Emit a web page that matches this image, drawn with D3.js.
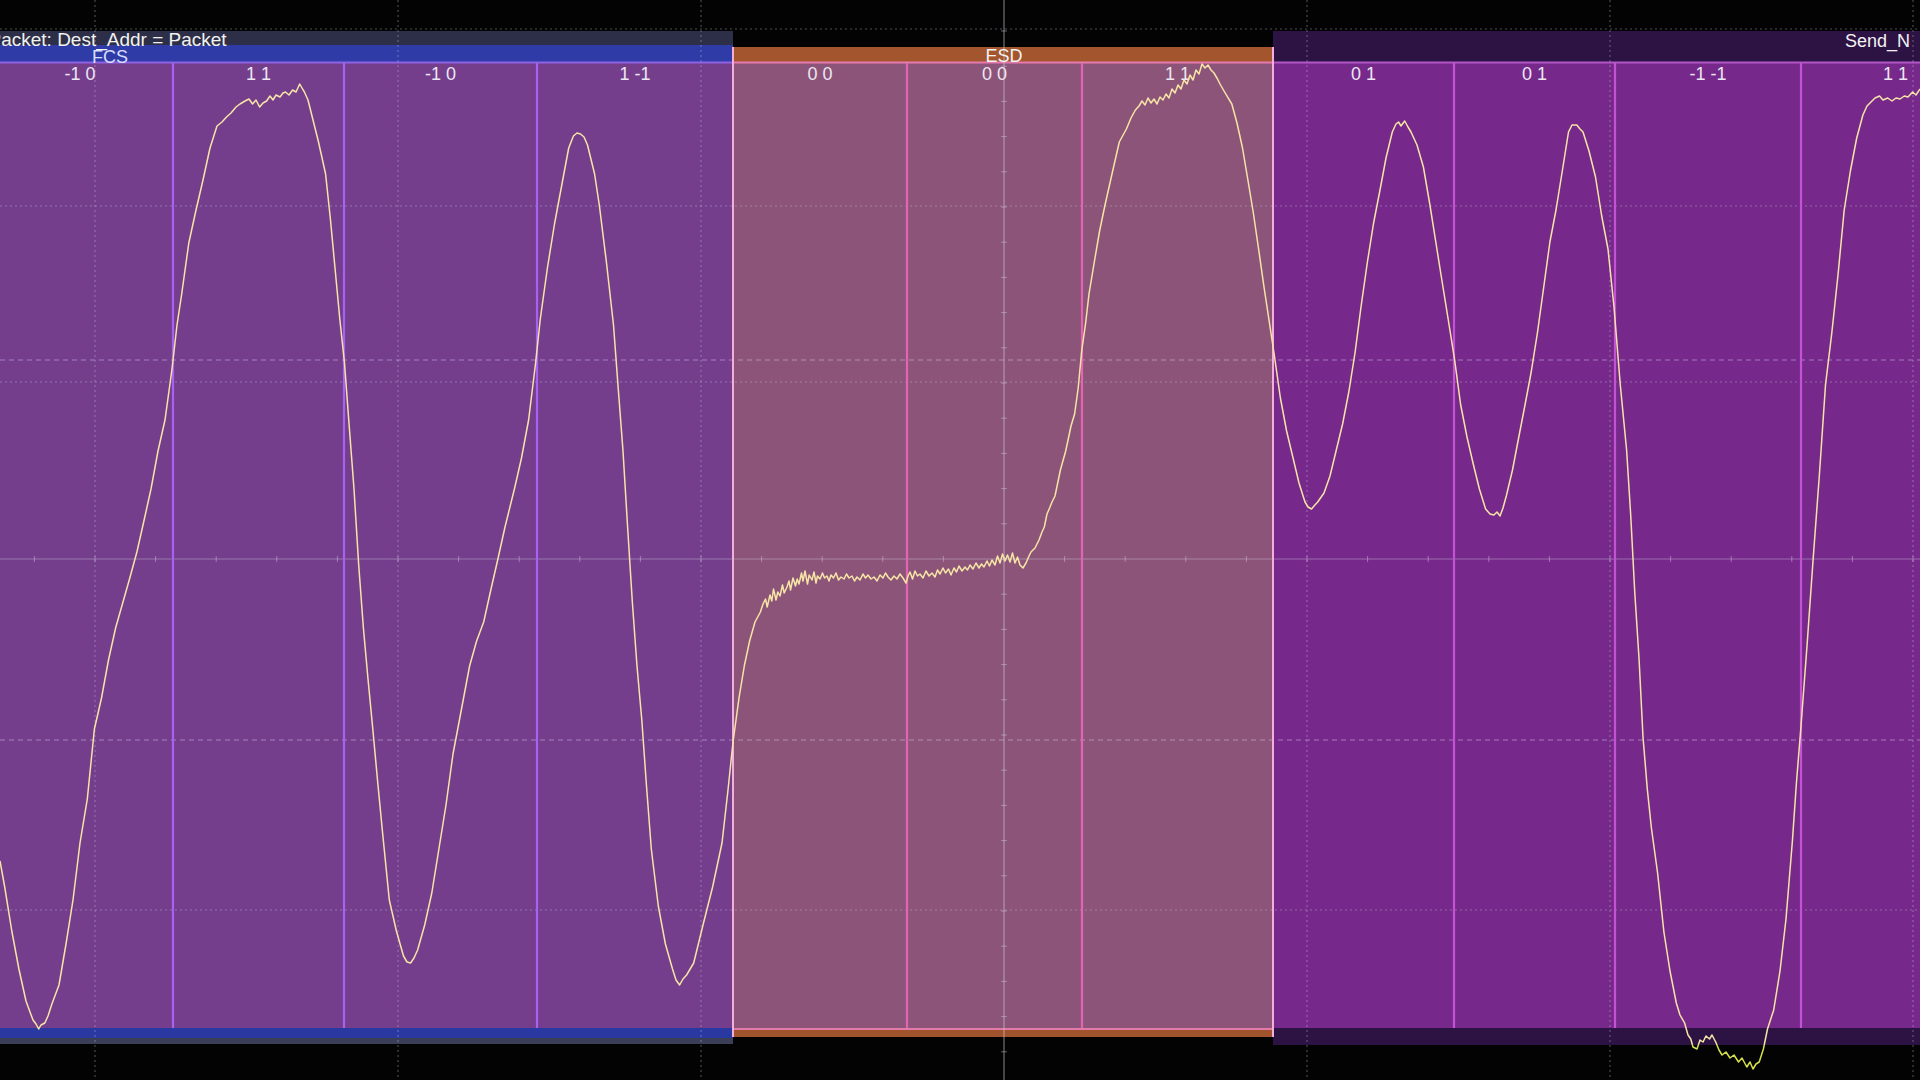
<!DOCTYPE html>
<html>
<head>
<meta charset="utf-8">
<script src="https://cdn.jsdelivr.net/npm/d3@7"></script>
<style>
html,body{margin:0;padding:0;background:#000;overflow:hidden}
svg{display:block}
</style>
</head>
<body>
<script>
// ---------------- DATA ----------------
// Decoded regions (time in ps)
const regionNames  = ["FCS", "ESD", "Send_N"];
const regionStarts = [-200, 7330, 12730];
const regionEnds   = [7330, 12730, 19400];

// Packet layer label
const packetLabel = "Packet: Dest_Addr = Packet";
const packetStart = -115;
const packetEnd = 7330;

// Symbols (PAM-3 pairs)
const symbolLabels = ["-1 0", "1 1", "-1 0", "1 -1", "0 0", "0 0", "1 1", "0 1", "0 1", "-1 -1", "1 1"];
const symbolStarts = [-130, 1730, 3440, 5370, 7330, 9070, 10820, 12730, 14540, 16150, 18010];
const symbolEnds   = [1730, 3440, 5370, 7330, 9070, 10820, 12730, 14540, 16150, 18010, 19900];

// Graticule (time in ps, level in mV)
const gridTimes = [950, 3980, 7010, 13070, 16100, 19130];
const centerTime = 10040;
const gridLevels = [530, 353, 177, -351];
const centerLevel = 0;
const thresholdLevels = [199, -181];

// Captured waveform: [time ps, level mV]
const trace = [[0,-302],[47,-328],[118,-372],[189,-410],[260,-442],[300,-453],[330,-461],[360,-465],[387,-470],[410,-466],[448,-464],[480,-457],[519,-445],[590,-426],[660,-385],[730,-341],[800,-284],[873,-240],[944,-170],[1015,-139],[1085,-101],[1156,-69],[1227,-44],[1298,-19],[1369,7],[1439,38],[1510,70],[1580,108],[1650,139],[1720,190],[1770,234],[1817,265],[1888,316],[1958,348],[2030,379],[2100,411],[2170,433],[2220,437],[2265,442],[2310,446],[2360,452],[2400,455],[2450,458],[2490,460],[2525,455],[2560,459],[2596,452],[2630,456],[2666,458],[2700,463],[2730,459],[2760,464],[2800,462],[2830,466],[2855,467],[2890,464],[2926,469],[2960,467],[2997,475],[3020,471],[3044,467],[3080,459],[3115,445],[3185,417],[3256,385],[3303,341],[3350,291],[3398,240],[3445,196],[3492,133],[3540,70],[3587,-6],[3634,-69],[3680,-120],[3728,-170],[3775,-221],[3823,-271],[3893,-341],[3964,-372],[4035,-397],[4070,-403],[4106,-404],[4140,-399],[4176,-391],[4247,-366],[4318,-334],[4389,-290],[4460,-246],[4530,-195],[4600,-158],[4696,-107],[4766,-82],[4837,-63],[4908,-31],[4979,0],[5050,32],[5144,70],[5215,101],[5286,139],[5356,196],[5403,240],[5474,291],[5545,335],[5616,373],[5687,411],[5734,423],[5770,426],[5805,425],[5840,422],[5875,414],[5946,385],[5993,354],[6064,297],[6135,234],[6182,171],[6230,108],[6276,32],[6324,-44],[6370,-107],[6418,-161],[6465,-227],[6513,-290],[6583,-347],[6654,-385],[6725,-410],[6760,-421],[6796,-426],[6830,-420],[6866,-416],[6937,-404],[7030,-366],[7126,-328],[7220,-284],[7280,-231],[7330,-183],[7390,-139],[7443,-107],[7496,-82],[7550,-63],[7604,-53],
[7630,-45],[7655,-40],[7672,-48],[7700,-36],[7718,-42],[7735,-30],[7760,-41],[7778,-33],[7800,-37],[7825,-26],[7842,-34],[7870,-28],[7890,-22],[7905,-31],[7930,-19],[7955,-27],[7972,-20],[7990,-25],[8015,-14],[8030,-22],[8050,-12],[8075,-25],[8092,-16],[8120,-21],[8140,-13],[8160,-24],[8175,-17],[8200,-20],[8225,-14],[8245,-19],[8270,-17],[8290,-22],[8310,-16],[8335,-19],[8360,-14],[8385,-21],[8410,-18],[8440,-20],[8465,-15],[8490,-19],[8520,-17],[8545,-22],[8570,-18],[8600,-21],[8630,-15],[8655,-19],[8680,-16],[8710,-20],[8740,-18],[8770,-22],[8800,-16],[8830,-19],[8855,-14],[8880,-18],[8910,-21],[8940,-17],[8970,-20],[9000,-15],[9030,-19],[9060,-24],[9080,-17],[9100,-13],[9125,-20],[9150,-12],[9175,-17],[9200,-15],[9230,-19],[9260,-12],[9290,-17],[9320,-14],[9350,-18],[9375,-11],[9400,-15],[9430,-9],[9455,-14],[9485,-10],[9510,-16],[9540,-9],[9565,-13],[9590,-7],[9620,-12],[9650,-8],[9675,-11],[9700,-6],[9730,-10],[9760,-4],[9790,-9],[9815,-5],[9840,-8],[9870,-2],[9895,-7],[9920,-1],[9950,-6],[9975,3],[10000,-4],[10025,5],[10050,-2],[10075,4],[10100,-3],[10125,6],[10150,-4],[10175,2],[10200,-6],[10230,-9],[10260,-4],[10290,3],[10310,7],
[10350,11],[10390,19],[10420,27],[10443,32],[10470,45],[10496,51],[10520,57],[10550,63],[10604,89],[10657,108],[10710,133],[10746,145],[10782,171],[10818,209],[10854,234],[10890,265],[10943,297],[10996,328],[11050,354],[11120,385],[11193,417],[11264,430],[11310,441],[11354,449],[11390,453],[11420,458],[11450,454],[11480,461],[11510,456],[11540,460],[11570,455],[11600,462],[11630,459],[11660,465],[11690,461],[11720,470],[11750,466],[11780,474],[11810,470],[11840,479],[11870,475],[11900,484],[11930,479],[11960,489],[11990,485],[12020,495],[12050,491],[12080,494],[12110,489],[12140,486],[12175,480],[12200,475],[12246,467],[12318,455],[12370,436],[12425,411],[12479,379],[12532,347],[12586,310],[12640,272],[12693,237],[12740,206],[12804,161],[12866,128],[12928,102],[12990,76],[13050,57],[13080,52],[13115,50],[13140,53],[13177,57],[13240,66],[13300,83],[13363,109],[13426,135],[13488,167],[13550,206],[13610,252],[13674,297],[13736,336],[13800,369],[13860,401],[13923,427],[13960,435],[13985,437],[14010,433],[14047,438],[14080,432],[14110,427],[14170,414],[14234,392],[14296,356],[14358,317],[14420,278],[14483,239],[14545,200],[14607,154],[14670,122],[14730,96],[14794,70],[14856,50],[14900,45],[14939,44],[14970,47],[15000,43],[15030,51],[15063,63],[15125,89],[15188,122],[15250,154],[15312,187],[15374,226],[15436,271],[15499,317],[15560,349],[15623,388],[15685,427],[15720,434],[15768,434],[15800,430],[15830,427],[15890,408],[15955,382],[16017,343],[16080,310],[16140,252],[16203,174],[16266,109],[16307,44],[16348,-34],[16390,-99],[16430,-178],[16473,-230],[16514,-269],[16576,-314],[16639,-373],[16700,-412],[16763,-444],[16800,-456],[16846,-464],[16880,-476],[16908,-480],[16930,-488],[16970,-490],[17000,-481],[17030,-483],[17060,-477],[17095,-480],[17120,-476],[17157,-483],[17190,-491],[17220,-496],[17260,-493],[17300,-499],[17340,-496],[17385,-503],[17420,-499],[17468,-508],[17500,-503],[17530,-510],[17560,-505],[17592,-503],[17634,-490],[17675,-470],[17737,-451],[17800,-412],[17860,-360],[17924,-282],[17965,-223],[18007,-171],[18070,-87],[18130,-2],[18193,83],[18255,174],[18318,226],[18380,284],[18442,349],[18504,388],[18567,421],[18629,444],[18670,453],[18710,457],[18750,461],[18795,463],[18830,459],[18877,461],[18920,458],[18960,461],[19000,460],[19043,463],[19080,462],[19126,467],[19160,464],[19200,470]];

// ---------------- STYLE / LAYOUT ----------------
const W = 1920, H = 1080;
const layout = {
  packetTop: 31, packetBottom: 45,
  bodyTop: 63, bodyBottom: 1028,
  labelBaseline: 80
};
const regionStyle = {
  "FCS":    {body:"#743E8C", header:"#2F3CA8", headerTop:45, topLine:"#8E62E6", divider:"#A862F2",
             bands:[[1028,1038,"#2A39A2"],[1038,1044,"#3A3E56"]], labelX:"center", labelY:63},
  "ESD":    {body:"#8C5478", header:"#A3552E", headerTop:47, topLine:"#E87AB0", divider:"#E464B4",
             bands:[[1028,1030,"#E27AA8"],[1030,1037,"#A0532C"]], labelX:"center", labelY:62, edge:"#F4AEDA"},
  "Send_N": {body:"#76298B", header:"#2D1244", headerTop:31, topLine:"#B456C8", divider:"#C352D4",
             bands:[[1028,1045,"#2D1244"]], labelX:"right", labelY:47}
};
const FONT = "'Liberation Sans', Arial, Helvetica, sans-serif";

// ---------------- SCALES ----------------
const x = d3.scaleLinear().domain([0, 19200]).range([0, W]);
const y = d3.scaleLinear().domain([-528, 528]).range([1087, 31]);

const svg = d3.select("body").append("svg")
  .attr("width", W).attr("height", H)
  .attr("viewBox", `0 0 ${W} ${H}`);

svg.append("rect").attr("width", W).attr("height", H).attr("fill", "#030303");

const regions = regionNames.map((n, i) => ({name: n, start: regionStarts[i], end: regionEnds[i], s: regionStyle[n]}));
const cx = v => Math.max(-5, Math.min(W + 5, x(v)));

// region bodies
svg.append("g").selectAll("rect").data(regions).join("rect")
  .attr("x", d => cx(d.start)).attr("width", d => cx(d.end) - cx(d.start))
  .attr("y", layout.bodyTop).attr("height", layout.bodyBottom - layout.bodyTop)
  .attr("fill", d => d.s.body);

// region headers
svg.append("g").selectAll("rect").data(regions).join("rect")
  .attr("x", d => cx(d.start)).attr("width", d => cx(d.end) - cx(d.start))
  .attr("y", d => d.s.headerTop).attr("height", d => layout.bodyTop - d.s.headerTop)
  .attr("fill", d => d.s.header);

// packet row
svg.append("rect")
  .attr("x", cx(packetStart)).attr("width", x(packetEnd) - cx(packetStart))
  .attr("y", layout.packetTop).attr("height", layout.packetBottom - layout.packetTop)
  .attr("fill", "#2C2F47");

// region top lines
svg.append("g").selectAll("rect").data(regions).join("rect")
  .attr("x", d => cx(d.start)).attr("width", d => cx(d.end) - cx(d.start))
  .attr("y", layout.bodyTop - 1.5).attr("height", 2)
  .attr("fill", d => d.s.topLine);

// bottom bands
regions.forEach(r => {
  r.s.bands.forEach(b => {
    svg.append("rect")
      .attr("x", cx(r.start)).attr("width", cx(r.end) - cx(r.start))
      .attr("y", b[0]).attr("height", b[1] - b[0]).attr("fill", b[2]);
  });
});

// graticule
const grid = svg.append("g").attr("fill", "none");
grid.selectAll("line.vt").data(gridTimes).join("line")
  .attr("x1", d => x(d)).attr("x2", d => x(d)).attr("y1", 0).attr("y2", H)
  .attr("stroke", "rgba(200,200,225,0.42)").attr("stroke-width", 1).attr("stroke-dasharray", "2,3");
grid.append("line")
  .attr("x1", x(centerTime)).attr("x2", x(centerTime)).attr("y1", 0).attr("y2", H)
  .attr("stroke", "rgba(205,205,215,0.55)").attr("stroke-width", 1.2);
grid.selectAll("line.hz").data(gridLevels).join("line")
  .attr("x1", 0).attr("x2", W).attr("y1", d => y(d)).attr("y2", d => y(d))
  .attr("stroke", "rgba(200,200,225,0.38)").attr("stroke-width", 1).attr("stroke-dasharray", "2,3");
grid.selectAll("line.th").data(thresholdLevels).join("line")
  .attr("x1", 0).attr("x2", W).attr("y1", d => y(d)).attr("y2", d => y(d))
  .attr("stroke", "rgba(215,200,240,0.5)").attr("stroke-width", 1).attr("stroke-dasharray", "5,4");
grid.append("line")
  .attr("x1", 0).attr("x2", W).attr("y1", y(centerLevel)).attr("y2", y(centerLevel))
  .attr("stroke", "rgba(205,200,225,0.42)").attr("stroke-width", 1.2);

// minor ticks on centre axes
const hTicks = d3.range(-25, 26).map(k => centerTime + k * 606);
grid.selectAll("line.htk").data(hTicks).join("line")
  .attr("x1", d => x(d)).attr("x2", d => x(d))
  .attr("y1", y(centerLevel) - 3).attr("y2", y(centerLevel) + 3)
  .attr("stroke", "rgba(210,205,225,0.45)");
const vTicks = d3.range(-15, 16).map(k => centerLevel + k * 35.2);
grid.selectAll("line.vtk").data(vTicks).join("line")
  .attr("x1", x(centerTime) - 3).attr("x2", x(centerTime) + 3)
  .attr("y1", d => y(d)).attr("y2", d => y(d))
  .attr("stroke", "rgba(210,205,225,0.45)");

// symbol dividers
const symbols = symbolLabels.map((l, i) => ({label: l, start: symbolStarts[i], end: symbolEnds[i]}));
const regionOf = t => regions.find(r => t >= r.start && t < r.end) || regions[regions.length - 1];
const dividers = symbols.map(s => s.start).filter(t => t > 0 && !regionStarts.includes(t));
svg.append("g").selectAll("line").data(dividers).join("line")
  .attr("x1", d => x(d)).attr("x2", d => x(d))
  .attr("y1", layout.bodyTop).attr("y2", layout.bodyBottom)
  .attr("stroke", d => regionOf(d).s.divider).attr("stroke-width", 2.2);

// region edges (ESD outlined)
regions.filter(r => r.s.edge).forEach(r => {
  [r.start, r.end].forEach(t => {
    svg.append("line")
      .attr("x1", x(t)).attr("x2", x(t))
      .attr("y1", r.s.headerTop).attr("y2", 1037)
      .attr("stroke", r.s.edge).attr("stroke-width", 2);
  });
});

// texts
const txt = svg.append("g").attr("font-family", FONT).attr("fill", "#F2F2F2");
txt.append("text").attr("x", x(packetStart)).attr("y", 46)
  .attr("font-size", 19).text(packetLabel);

regions.forEach(r => {
  const t = txt.append("text").attr("font-size", 18).attr("y", r.s.labelY).text(r.name);
  if (r.s.labelX === "right") {
    t.attr("x", W - 10).attr("text-anchor", "end");
  } else if (r.name === "FCS") {
    t.attr("x", x(1100)).attr("text-anchor", "middle").attr("fill", "#D8DCFF");
  } else {
    t.attr("x", x((r.start + r.end) / 2) + 1).attr("text-anchor", "middle");
  }
});

txt.selectAll("text.sym").data(symbols).join("text")
  .attr("x", d => x((d.start + d.end) / 2))
  .attr("y", layout.labelBaseline)
  .attr("text-anchor", "middle").attr("font-size", 18)
  .attr("fill", "#ECE6F2")
  .attr("xml:space", "preserve")
  .text(d => d.label);

// trace
const defs = svg.append("defs");
const grad = defs.append("linearGradient").attr("id", "traceGrad")
  .attr("gradientUnits", "userSpaceOnUse")
  .attr("x1", 0).attr("y1", 0).attr("x2", 0).attr("y2", H);
grad.append("stop").attr("offset", 0).attr("stop-color", "#F6E4A6");
grad.append("stop").attr("offset", 0.966).attr("stop-color", "#F6E4A6");
grad.append("stop").attr("offset", 0.968).attr("stop-color", "#D6E04A");
grad.append("stop").attr("offset", 1).attr("stop-color", "#D6E04A");

const line = d3.line().x(d => x(d[0])).y(d => y(d[1]));
svg.append("path").datum(trace)
  .attr("d", line)
  .attr("fill", "none")
  .attr("stroke", "url(#traceGrad)")
  .attr("stroke-width", 1.5)
  .attr("stroke-linejoin", "round");
</script>
</body>
</html>
